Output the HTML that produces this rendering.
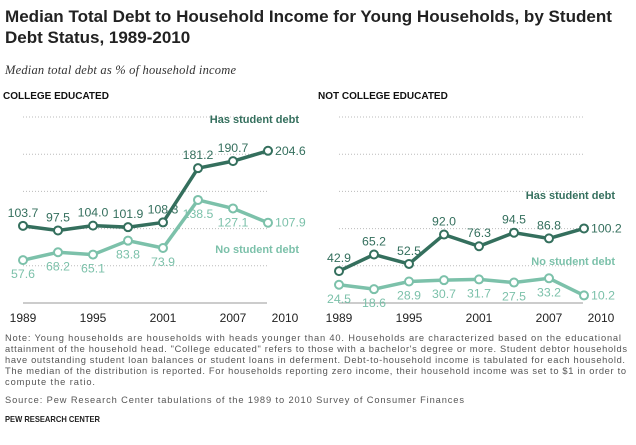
<!DOCTYPE html>
<html><head><meta charset="utf-8"><style>
body{margin:0;background:#fff;width:636px;height:445px;overflow:hidden;font-family:"Liberation Sans",sans-serif}
svg{position:absolute;left:0;top:0}
</style></head><body>
<svg width="636" height="445">
<text x="5" y="22" font-size="17" font-weight="bold" fill="#222" textLength="607" lengthAdjust="spacingAndGlyphs">Median Total Debt to Household Income for Young Households, by Student</text>
<text x="5" y="43" font-size="17" font-weight="bold" fill="#222">Debt Status, 1989-2010</text>
<text x="5" y="74" font-size="12.5" font-style="italic" font-family="Liberation Serif,serif" fill="#333" textLength="231">Median total debt as % of household income</text>
<text x="3" y="99" font-size="10" font-weight="bold" fill="#111">COLLEGE EDUCATED</text>
<text x="318" y="99" font-size="10" font-weight="bold" fill="#111">NOT COLLEGE EDUCATED</text>
<g id="plots"></g>
<g font-size="9.3" fill="#555">
<text x="5" y="341" textLength="616" lengthAdjust="spacing">Note: Young households are households with heads younger than 40. Households are characterized based on the educational</text>
<text x="5" y="352" textLength="622" lengthAdjust="spacing">attainment of the household head. "College educated" refers to those with a bachelor's degree or more. Student debtor households</text>
<text x="5" y="363" textLength="620" lengthAdjust="spacing">have outstanding student loan balances or student loans in deferment. Debt-to-household income is tabulated for each household.</text>
<text x="5" y="374" textLength="621" lengthAdjust="spacing">The median of the distribution is reported. For households reporting zero income, their household income was set to $1 in order to</text>
<text x="5" y="385" textLength="90" lengthAdjust="spacing">compute the ratio.</text>
<text x="5" y="403" textLength="459" lengthAdjust="spacing">Source: Pew Research Center tabulations of the 1989 to 2010 Survey of Consumer Finances</text>
</g>
<text x="5" y="422" font-size="8.5" font-weight="bold" fill="#222" textLength="95" lengthAdjust="spacingAndGlyphs">PEW RESEARCH CENTER</text>
</svg>
<script>
const years=[1989,1992,1995,1998,2001,2004,2007,2010];
const tickYears=["1989","1995","2001","2007","2010"];
const gridValues=[50,100,150,200,250];
const collegeHas=[103.7,97.5,104.0,101.9,108.3,181.2,190.7,204.6];
const collegeNo=[57.6,68.2,65.1,83.8,73.9,138.5,127.1,107.9];
const notCollegeHas=[42.9,65.2,52.5,92.0,76.3,94.5,86.8,100.2];
const notCollegeNo=[24.5,18.6,28.9,30.7,31.7,27.5,33.2,10.2];
const DARK="#346f5d",LIGHT="#7cc1aa";
const g=document.getElementById('plots');
const NS="http://www.w3.org/2000/svg";
function mk(t,a){const e=document.createElementNS(NS,t);for(const k in a)e.setAttribute(k,a[k]);g.appendChild(e);return e;}
const yS=v=>303-v*0.744;
function panel(x0,name,has,no,hasLegY,noLegY){
  const xS=y=>x0+(y-1989)/3*35;
  gridValues.forEach(v=>{const l=mk('line',{x1:x0,x2:x0+244,y1:yS(v),y2:yS(v),stroke:'#bbb','stroke-dasharray':'1,2'});
    
    });
  const ax=mk('line',{x1:x0,x2:x0+244,y1:303,y2:303,stroke:'#999'});
  
  
  tickYears.forEach(t=>{const yr=+t;const x=yr==2010?x0+262:xS(yr);
    const e=mk('text',{x:x,y:322,'text-anchor':'middle','font-size':'12',fill:'#222'});e.textContent=t;
    
    });
  [[no,LIGHT,'no-debt',1],[has,DARK,'has-debt',-1]].forEach(([vals,c,sn,dir])=>{
    const p=mk('polyline',{points:vals.map((v,i)=>xS(years[i])+','+yS(v)).join(' '),fill:'none',stroke:c,'stroke-width':3.5});
    
    
    vals.forEach((v,i)=>{
      const cx=xS(years[i]),cy=yS(v);
      const m=mk('circle',{cx:cx,cy:cy,r:4,fill:'#fff',stroke:c,'stroke-width':2});
      
      
      const last=i==vals.length-1;
      const t=mk('text',{x:last?cx+7:cx,y:last?cy+4:(dir<0?cy-9:cy+18),'text-anchor':last?'start':'middle','font-size':'12.3',fill:c});
      t.textContent=v.toFixed(1);
      
      
    });
  });
  const a=mk('text',{x:x0+276,y:hasLegY,'text-anchor':'end','font-size':'11','font-weight':'bold',fill:DARK});a.textContent='Has student debt';
  
  
  const b=mk('text',{x:x0+276,y:noLegY,'text-anchor':'end','font-size':'11','font-weight':'bold',fill:LIGHT});b.textContent='No student debt';
  
  
}
panel(23,'college',collegeHas,collegeNo,123,253);
panel(339,'not-college',notCollegeHas,notCollegeNo,199,265);
</script>
</body></html>
